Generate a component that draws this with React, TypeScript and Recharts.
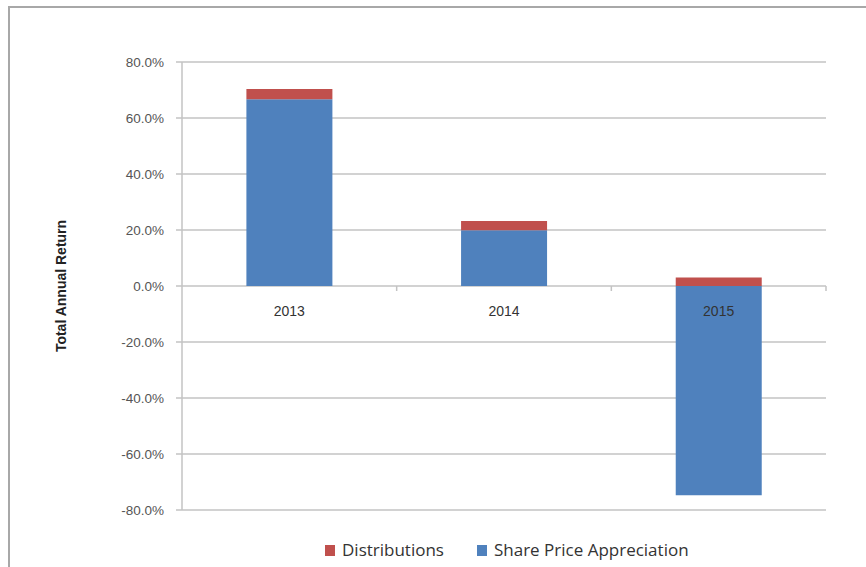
import { BarChart, Bar, XAxis, YAxis, CartesianGrid, Legend } from "recharts";

const years = ["2013", "2014", "2015"];
const shareAppreciation = [66.7, 19.9, -74.7];
const distributions = [3.7, 3.3, 3.0];
const yTicks = [-80, -60, -40, -20, 0, 20, 40, 60, 80];

const W = 866;
const H = 567;
const MARGIN = { top: 62, right: 40, bottom: 27, left: 0 };
const Y_AXIS_W = 182;
const X_AXIS_H = 30;
const Y_MIN = -80;
const Y_MAX = 80;

const BLUE = "#4F81BD";
const RED = "#C0504D";
const GRID = "#c3c3c3";

const data = years.map((year, i) => ({
  year,
  appreciation: shareAppreciation[i],
  distributions: distributions[i],
}));

// x axis sits on the zero line, not at the bottom of the plot
const plotTop = MARGIN.top;
const plotH = H - MARGIN.top - MARGIN.bottom - X_AXIS_H;
const zeroY = plotTop + (plotH * Y_MAX) / (Y_MAX - Y_MIN);
const band = (W - MARGIN.left - MARGIN.right - Y_AXIS_W) / years.length;

function YearTick({ x, payload }: { x?: number; payload?: { value: string } }) {
  const cx = x ?? 0;
  return (
    <g>
      <text
        x={cx}
        y={zeroY + 30}
        textAnchor="middle"
        fill="#333"
        fontSize={14}
        fontFamily="'Liberation Sans', Arial, sans-serif"
      >
        {payload?.value}
      </text>
      <line
        x1={cx + band / 2}
        x2={cx + band / 2}
        y1={zeroY}
        y2={zeroY + 5}
        stroke={GRID}
        strokeWidth={1.5}
      />
    </g>
  );
}

function LegendContent({ payload }: { payload?: { value: string; color: string }[] }) {
  const items = (payload ?? []).slice().sort((a, b) => a.value.localeCompare(b.value));
  return (
    <div style={{ display: "flex", alignItems: "center", gap: 33 }}>
      {items.map((it) => (
        <div key={it.value} style={{ display: "flex", alignItems: "center" }}>
          <span
            style={{
              display: "inline-block",
              width: 10,
              height: 11,
              background: it.color,
              marginRight: 7,
            }}
          />
          <span
            style={{
              fontFamily: "'Open Sans', sans-serif",
              fontSize: 17,
              color: "#333",
              lineHeight: "22px",
            }}
          >
            {it.value}
          </span>
        </div>
      ))}
    </div>
  );
}

export default function App() {
  return (
    <div
      style={{
        position: "absolute",
        left: 0,
        top: 0,
        width: W,
        height: H,
        overflow: "hidden",
        background: "#fff",
      }}
    >
      <div
        style={{
          position: "absolute",
          left: 8,
          top: 6,
          width: 900,
          height: 600,
          borderTop: "2px solid #a8a8a8",
          borderLeft: "2px solid #a8a8a8",
        }}
      />
      <div style={{ position: "absolute", left: 0, top: 0 }}>
        <BarChart
          width={W}
          height={H}
          data={data}
          margin={MARGIN}
          stackOffset="sign"
          barCategoryGap="30%"
        >
          <CartesianGrid vertical={false} stroke={GRID} strokeWidth={1.5} />
          <YAxis
            width={Y_AXIS_W}
            domain={[Y_MIN, Y_MAX]}
            ticks={yTicks}
            tickFormatter={(v: number) => `${v.toFixed(1)}%`}
            tick={{
              fill: "#555",
              fontSize: 13.5,
              fontFamily: "'Liberation Sans', Arial, sans-serif",
            }}
            tickSize={6}
            tickMargin={12}
            axisLine={{ stroke: GRID, strokeWidth: 1.5 }}
            tickLine={{ stroke: GRID, strokeWidth: 1.5 }}
            label={{
              value: "Total Annual Return",
              angle: -90,
              position: "insideLeft",
              offset: 61,
              style: {
                textAnchor: "middle",
                fontSize: 14,
                fontWeight: "bold",
                fill: "#222",
                fontFamily: "'Liberation Sans', Arial, sans-serif",
              },
            }}
          />
          <XAxis
            dataKey="year"
            height={X_AXIS_H}
            axisLine={false}
            tickLine={false}
            tick={<YearTick />}
          />
          <Bar
            dataKey="appreciation"
            name="Share Price Appreciation"
            stackId="a"
            fill={BLUE}
            isAnimationActive={false}
          />
          <Bar
            dataKey="distributions"
            name="Distributions"
            stackId="a"
            fill={RED}
            isAnimationActive={false}
          />
          <Legend
            verticalAlign="middle"
            align="center"
            layout="horizontal"
            content={<LegendContent />}
            wrapperStyle={{ top: 539, left: 325, width: "auto" }}
          />
        </BarChart>
      </div>
    </div>
  );
}
